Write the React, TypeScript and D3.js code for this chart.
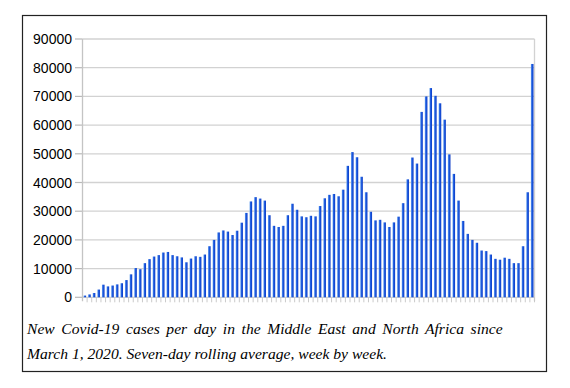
import React from "react";
import * as d3 from "d3";

const weeklyCases: number[] = [
  600, 1000, 1500, 2700, 4400, 3800, 4100, 4500, 4900, 6000,
  8000, 10200, 9800, 11900, 13300, 14200, 14700, 15600, 15800, 14700,
  14300, 13900, 12200, 13500, 14300, 14100, 14900, 17800, 20000, 22600,
  23300, 22900, 21700, 23200, 26000, 29400, 33400, 34900, 34400, 33700,
  28600, 24900, 24500, 24900, 28600, 32600, 30500, 28200, 27900, 28400,
  28200, 31800, 34500, 35700, 36000, 35200, 37500, 45800, 50600, 48800,
  42000, 36600, 29800, 26800, 27000, 26100, 24500, 26100, 28100, 32800,
  41100, 48700, 46600, 64600, 70000, 72900, 70200, 67600, 61900, 49800,
  43000, 33700, 26600, 22100, 20000, 19000, 16300, 16100, 14900, 13400,
  13100, 13800, 13400, 11900, 11900, 17800, 36600, 81300,
];

const yTicks: number[] = [0, 10000, 20000, 30000, 40000, 50000, 60000, 70000, 80000, 90000];

const captionLines: string[] = [
  "New Covid-19 cases per day in the Middle East and North Africa since",
  "March 1, 2020. Seven-day rolling average, week by week.",
];

export default function App() {
  const W = 570;
  const H = 388;
  const left = 82.5;
  const right = 534.5;
  const top = 39;
  const bottom = 297.3;

  const x = d3
    .scaleBand<number>()
    .domain(weeklyCases.map((_, i) => i))
    .range([left, right])
    .paddingInner(0)
    .paddingOuter(0);
  const y = d3.scaleLinear().domain([0, 90000]).range([bottom, top]);
  const bw = x.bandwidth();
  const barW = 2.6;

  return (
    <div style={{ position: "absolute", left: 0, top: 0 }}>
      <svg width={W} height={H} style={{ display: "block", background: "#fff" }}>
        <defs>
          <linearGradient id="barGrad" x1="0" x2="1" y1="0" y2="0">
            <stop offset="0" stopColor="#78acf0" />
            <stop offset="0.35" stopColor="#2463e4" />
            <stop offset="1" stopColor="#0838c4" />
          </linearGradient>
        </defs>
        {/* outer frame */}
        <rect x={22.5} y={15.5} width={524} height={356} fill="#fff" stroke="#222" strokeWidth={1.2} />

        {/* gridlines */}
        {yTicks.map((t) => (
          <line key={"g" + t} x1={left} x2={right} y1={y(t)} y2={y(t)} stroke="#d2d2d2" strokeWidth={1.3} />
        ))}
        {/* y tick marks */}
        {yTicks.map((t) => (
          <line key={"yt" + t} x1={75} x2={left} y1={y(t)} y2={y(t)} stroke="#b8b8b8" strokeWidth={1.2} />
        ))}
        {/* axis lines */}
        <line x1={left} x2={left} y1={top} y2={bottom + 4} stroke="#c4c4c4" strokeWidth={1.3} />
        <line x1={right} x2={right} y1={top} y2={bottom + 4} stroke="#d2d2d2" strokeWidth={1.3} />
        {/* x tick marks */}
        {weeklyCases.map((_, i) => (
          <line
            key={"xt" + i}
            x1={(x(i) as number) + bw}
            x2={(x(i) as number) + bw}
            y1={bottom}
            y2={bottom + 5}
            stroke="#c4c4c4"
            strokeWidth={0.9}
          />
        ))}
        {/* y labels */}
        {yTicks.map((t) => (
          <text
            key={"yl" + t}
            x={72}
            y={y(t)}
            dy="0.36em"
            textAnchor="end"
            fontFamily="Liberation Sans, Arial, sans-serif"
            fontSize={14}
            fill="#000"
          >
            {t}
          </text>
        ))}
        {/* bars */}
        {weeklyCases.map((v, i) => (
          <rect
            key={"b" + i}
            x={(x(i) as number) + bw / 2 - barW / 2}
            y={y(v)}
            width={barW}
            height={bottom - y(v)}
            fill="url(#barGrad)"
          />
        ))}
        {/* caption */}
        {captionLines.map((line, i) => (
          <text
            key={"c" + i}
            x={27}
            y={334 + i * 24.5}
            fontFamily="Liberation Serif, Times New Roman, serif"
            fontStyle="italic"
            fontSize={15.6}
            fill="#000"
            style={{ wordSpacing: i === 0 ? "2.7px" : "0px" }}
          >
            {line}
          </text>
        ))}
      </svg>
    </div>
  );
}
